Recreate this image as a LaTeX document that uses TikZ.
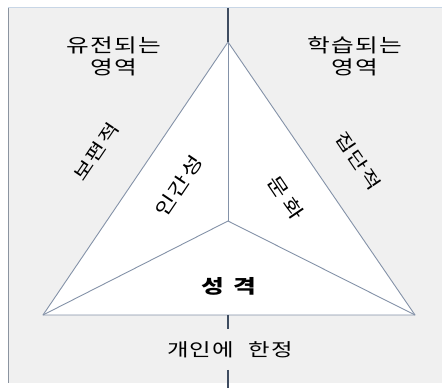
\documentclass[tikz,border=0pt]{standalone}
\usepackage{fontspec}
\setmainfont{Noto Sans CJK KR}
\newfontfamily\widekr[FakeStretch=1.3,LetterSpace=8]{Noto Sans CJK KR}
\usepackage{tikz}

\definecolor{panel}{HTML}{F0F0F0}
\definecolor{frameblue}{HTML}{C8D6E6}
\definecolor{axisline}{HTML}{3E4C60}
\definecolor{edgeline}{HTML}{8492A8}

\begin{document}
\begin{tikzpicture}[x=1pt,y=1pt,
  pt/.style={inner sep=0pt,minimum size=0pt},
  edge/.style={draw=edgeline,line width=0.9pt,line join=round},
  axis/.style={draw=axisline,line width=1.8pt},
  title/.style={font=\widekr\fontsize{19}{22}\selectfont,align=center},
  side/.style={font=\widekr\fontsize{17.5}{20}\selectfont,inner sep=1pt},
  note/.style={font=\widekr\fontsize{18.5}{21}\selectfont,inner sep=1pt}]

\useasboundingbox (0,0) rectangle (442,388);

% background panel
\fill[panel] (8,5) rectangle (442,380);
\draw[frameblue,line width=1pt] (8,380) -- (442,380);
\draw[axisline!60,line width=1pt] (8,5) -- (8,380);

% triangle corners and centre
\node[pt] (top) at (228,346) {};
\node[pt] (lft) at (43,73) {};
\node[pt] (rgt) at (415,73) {};
\node[pt] (mid) at (228,167) {};
\coordinate (upper) at (228,380);
\coordinate (low1) at (228,59);
\coordinate (low2) at (228,18);
\coordinate (low3) at (228,0);

\fill[white] (top.center) -- (rgt.center) -- (lft.center) -- cycle;
\draw[edge] (top.center) -- (rgt.center) -- (lft.center) -- cycle;
\draw[edge] (mid.center) -- (top.center);
\draw[edge] (mid.center) -- (lft.center);
\draw[edge] (mid.center) -- (rgt.center);

% vertical axis
\draw[axis] (upper) -- (top.center);
\draw[axis] (lft.center -| mid.center) -- (low1);
\draw[axis] (low2) -- (low3);

% area titles
\node[title] (inherit) at (114,332) {유전되는\\영역};
\node[title] (learn) at (355,332) {학습되는\\영역};

% side labels
\node[side,rotate=56] (univ) at (96,236) {보편적};
\node[side,rotate=-56] (group) at (358,227) {집단적};

% inner labels
\node[note,rotate=56] (human) at (179,202) {인간성};
\node[note,rotate=-56] (cult) at (286,190) {문\hspace{5pt}화};
\node[note,font=\widekr\fontsize{19}{22}\selectfont\bfseries] (pers) at (229,102) {성\hspace{10pt}격};
\node[note,font=\widekr\fontsize{18}{21}\selectfont] (indiv) at (230,38) {개인에\hspace{14pt}한정};
\end{tikzpicture}
\end{document}
